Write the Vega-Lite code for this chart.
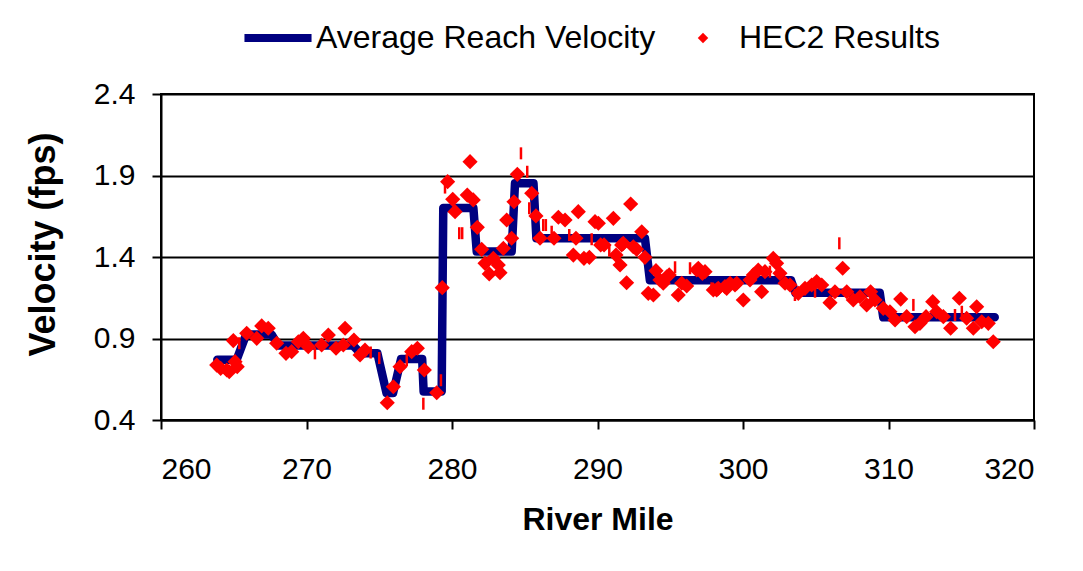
{
  "$schema": "https://vega.github.io/schema/vega-lite/v6.json",
  "width": 873,
  "height": 326,
  "autosize": {"type": "none"},
  "padding": {"left": 161, "top": 94, "right": 49, "bottom": 151},
  "background": "white",
  "config": {
    "view": {"stroke": "black", "strokeWidth": 2},
    "font": "Liberation Sans",
    "axis": {
      "domainColor": "black", "domainWidth": 2,
      "tickColor": "black", "tickWidth": 2, "tickSize": 9,
      "gridColor": "black", "gridWidth": 2,
      "labelFont": "Liberation Sans", "labelFontSize": 30, "labelColor": "black",
      "titleFont": "Liberation Sans", "titleFontSize": 32, "titleFontWeight": "bold", "titleColor": "black"
    }
  },
  "datasets": {
    "line": [
      {"mile": 263.87, "v": 0.77, "series": "Average Reach Velocity"},
      {"mile": 265.2, "v": 0.77, "series": "Average Reach Velocity"},
      {"mile": 265.85, "v": 0.925, "series": "Average Reach Velocity"},
      {"mile": 267.6, "v": 0.925, "series": "Average Reach Velocity"},
      {"mile": 268.06, "v": 0.857, "series": "Average Reach Velocity"},
      {"mile": 273.2, "v": 0.857, "series": "Average Reach Velocity"},
      {"mile": 273.7, "v": 0.81, "series": "Average Reach Velocity"},
      {"mile": 274.87, "v": 0.81, "series": "Average Reach Velocity"},
      {"mile": 275.5, "v": 0.565, "series": "Average Reach Velocity"},
      {"mile": 275.95, "v": 0.565, "series": "Average Reach Velocity"},
      {"mile": 276.5, "v": 0.775, "series": "Average Reach Velocity"},
      {"mile": 277.95, "v": 0.775, "series": "Average Reach Velocity"},
      {"mile": 278.05, "v": 0.575, "series": "Average Reach Velocity"},
      {"mile": 279.29, "v": 0.575, "series": "Average Reach Velocity"},
      {"mile": 279.4, "v": 1.70, "series": "Average Reach Velocity"},
      {"mile": 281.47, "v": 1.70, "series": "Average Reach Velocity"},
      {"mile": 281.7, "v": 1.433, "series": "Average Reach Velocity"},
      {"mile": 284.1, "v": 1.433, "series": "Average Reach Velocity"},
      {"mile": 284.33, "v": 1.852, "series": "Average Reach Velocity"},
      {"mile": 285.6, "v": 1.852, "series": "Average Reach Velocity"},
      {"mile": 285.8, "v": 1.515, "series": "Average Reach Velocity"},
      {"mile": 293.26, "v": 1.515, "series": "Average Reach Velocity"},
      {"mile": 293.6, "v": 1.257, "series": "Average Reach Velocity"},
      {"mile": 303.3, "v": 1.257, "series": "Average Reach Velocity"},
      {"mile": 303.6, "v": 1.18, "series": "Average Reach Velocity"},
      {"mile": 309.4, "v": 1.18, "series": "Average Reach Velocity"},
      {"mile": 309.64, "v": 1.03, "series": "Average Reach Velocity"},
      {"mile": 317.3, "v": 1.03, "series": "Average Reach Velocity"}
    ],
    "pts": [
      {"mile": 263.83, "v": 0.737, "series": "HEC2 Results"},
      {"mile": 264.10, "v": 0.717, "series": "HEC2 Results"},
      {"mile": 264.52, "v": 0.707, "series": "HEC2 Results"},
      {"mile": 264.69, "v": 0.696, "series": "HEC2 Results"},
      {"mile": 265.09, "v": 0.758, "series": "HEC2 Results"},
      {"mile": 265.24, "v": 0.727, "series": "HEC2 Results"},
      {"mile": 264.97, "v": 0.887, "series": "HEC2 Results"},
      {"mile": 265.89, "v": 0.932, "series": "HEC2 Results"},
      {"mile": 266.58, "v": 0.901, "series": "HEC2 Results"},
      {"mile": 266.92, "v": 0.977, "series": "HEC2 Results"},
      {"mile": 267.37, "v": 0.963, "series": "HEC2 Results"},
      {"mile": 267.95, "v": 0.871, "series": "HEC2 Results"},
      {"mile": 268.59, "v": 0.809, "series": "HEC2 Results"},
      {"mile": 268.98, "v": 0.819, "series": "HEC2 Results"},
      {"mile": 269.44, "v": 0.880, "series": "HEC2 Results"},
      {"mile": 269.78, "v": 0.901, "series": "HEC2 Results"},
      {"mile": 270.12, "v": 0.850, "series": "HEC2 Results"},
      {"mile": 271.04, "v": 0.860, "series": "HEC2 Results"},
      {"mile": 271.50, "v": 0.921, "series": "HEC2 Results"},
      {"mile": 272.03, "v": 0.840, "series": "HEC2 Results"},
      {"mile": 272.65, "v": 0.963, "series": "HEC2 Results"},
      {"mile": 272.53, "v": 0.860, "series": "HEC2 Results"},
      {"mile": 273.26, "v": 0.891, "series": "HEC2 Results"},
      {"mile": 273.68, "v": 0.799, "series": "HEC2 Results"},
      {"mile": 274.02, "v": 0.829, "series": "HEC2 Results"},
      {"mile": 275.55, "v": 0.506, "series": "HEC2 Results"},
      {"mile": 275.97, "v": 0.604, "series": "HEC2 Results"},
      {"mile": 276.43, "v": 0.727, "series": "HEC2 Results"},
      {"mile": 277.23, "v": 0.819, "series": "HEC2 Results"},
      {"mile": 277.62, "v": 0.840, "series": "HEC2 Results"},
      {"mile": 278.10, "v": 0.707, "series": "HEC2 Results"},
      {"mile": 278.95, "v": 0.567, "series": "HEC2 Results"},
      {"mile": 279.33, "v": 1.212, "series": "HEC2 Results"},
      {"mile": 279.70, "v": 1.862, "series": "HEC2 Results"},
      {"mile": 280.05, "v": 1.754, "series": "HEC2 Results"},
      {"mile": 280.21, "v": 1.678, "series": "HEC2 Results"},
      {"mile": 281.24, "v": 1.985, "series": "HEC2 Results"},
      {"mile": 281.05, "v": 1.780, "series": "HEC2 Results"},
      {"mile": 281.46, "v": 1.750, "series": "HEC2 Results"},
      {"mile": 281.74, "v": 1.582, "series": "HEC2 Results"},
      {"mile": 282.04, "v": 1.447, "series": "HEC2 Results"},
      {"mile": 282.27, "v": 1.361, "series": "HEC2 Results"},
      {"mile": 282.56, "v": 1.296, "series": "HEC2 Results"},
      {"mile": 282.84, "v": 1.392, "series": "HEC2 Results"},
      {"mile": 283.18, "v": 1.351, "series": "HEC2 Results"},
      {"mile": 283.30, "v": 1.304, "series": "HEC2 Results"},
      {"mile": 283.53, "v": 1.453, "series": "HEC2 Results"},
      {"mile": 283.76, "v": 1.627, "series": "HEC2 Results"},
      {"mile": 284.10, "v": 1.515, "series": "HEC2 Results"},
      {"mile": 284.26, "v": 1.739, "series": "HEC2 Results"},
      {"mile": 284.49, "v": 1.907, "series": "HEC2 Results"},
      {"mile": 285.48, "v": 1.791, "series": "HEC2 Results"},
      {"mile": 285.77, "v": 1.652, "series": "HEC2 Results"},
      {"mile": 286.05, "v": 1.515, "series": "HEC2 Results"},
      {"mile": 287.01, "v": 1.515, "series": "HEC2 Results"},
      {"mile": 287.31, "v": 1.644, "series": "HEC2 Results"},
      {"mile": 287.77, "v": 1.627, "series": "HEC2 Results"},
      {"mile": 288.52, "v": 1.515, "series": "HEC2 Results"},
      {"mile": 288.34, "v": 1.412, "series": "HEC2 Results"},
      {"mile": 288.68, "v": 1.678, "series": "HEC2 Results"},
      {"mile": 289.83, "v": 1.617, "series": "HEC2 Results"},
      {"mile": 290.06, "v": 1.607, "series": "HEC2 Results"},
      {"mile": 291.09, "v": 1.637, "series": "HEC2 Results"},
      {"mile": 292.28, "v": 1.725, "series": "HEC2 Results"},
      {"mile": 289.07, "v": 1.392, "series": "HEC2 Results"},
      {"mile": 289.44, "v": 1.398, "series": "HEC2 Results"},
      {"mile": 290.22, "v": 1.474, "series": "HEC2 Results"},
      {"mile": 290.45, "v": 1.474, "series": "HEC2 Results"},
      {"mile": 291.27, "v": 1.412, "series": "HEC2 Results"},
      {"mile": 291.55, "v": 1.351, "series": "HEC2 Results"},
      {"mile": 291.66, "v": 1.474, "series": "HEC2 Results"},
      {"mile": 291.77, "v": 1.484, "series": "HEC2 Results"},
      {"mile": 292.46, "v": 1.463, "series": "HEC2 Results"},
      {"mile": 292.69, "v": 1.447, "series": "HEC2 Results"},
      {"mile": 293.04, "v": 1.555, "series": "HEC2 Results"},
      {"mile": 293.26, "v": 1.398, "series": "HEC2 Results"},
      {"mile": 292.00, "v": 1.242, "series": "HEC2 Results"},
      {"mile": 294.02, "v": 1.316, "series": "HEC2 Results"},
      {"mile": 294.29, "v": 1.259, "series": "HEC2 Results"},
      {"mile": 294.52, "v": 1.239, "series": "HEC2 Results"},
      {"mile": 294.76, "v": 1.279, "series": "HEC2 Results"},
      {"mile": 294.93, "v": 1.290, "series": "HEC2 Results"},
      {"mile": 293.49, "v": 1.177, "series": "HEC2 Results"},
      {"mile": 293.84, "v": 1.167, "series": "HEC2 Results"},
      {"mile": 295.55, "v": 1.167, "series": "HEC2 Results"},
      {"mile": 295.79, "v": 1.239, "series": "HEC2 Results"},
      {"mile": 296.13, "v": 1.222, "series": "HEC2 Results"},
      {"mile": 296.82, "v": 1.320, "series": "HEC2 Results"},
      {"mile": 296.93, "v": 1.331, "series": "HEC2 Results"},
      {"mile": 297.21, "v": 1.300, "series": "HEC2 Results"},
      {"mile": 297.39, "v": 1.310, "series": "HEC2 Results"},
      {"mile": 297.96, "v": 1.198, "series": "HEC2 Results"},
      {"mile": 298.19, "v": 1.198, "series": "HEC2 Results"},
      {"mile": 298.30, "v": 1.208, "series": "HEC2 Results"},
      {"mile": 298.76, "v": 1.218, "series": "HEC2 Results"},
      {"mile": 298.88, "v": 1.208, "series": "HEC2 Results"},
      {"mile": 299.11, "v": 1.239, "series": "HEC2 Results"},
      {"mile": 299.45, "v": 1.228, "series": "HEC2 Results"},
      {"mile": 299.57, "v": 1.239, "series": "HEC2 Results"},
      {"mile": 300.02, "v": 1.136, "series": "HEC2 Results"},
      {"mile": 300.48, "v": 1.259, "series": "HEC2 Results"},
      {"mile": 300.71, "v": 1.290, "series": "HEC2 Results"},
      {"mile": 301.05, "v": 1.320, "series": "HEC2 Results"},
      {"mile": 301.28, "v": 1.187, "series": "HEC2 Results"},
      {"mile": 301.51, "v": 1.310, "series": "HEC2 Results"},
      {"mile": 302.08, "v": 1.392, "series": "HEC2 Results"},
      {"mile": 302.31, "v": 1.361, "series": "HEC2 Results"},
      {"mile": 302.54, "v": 1.300, "series": "HEC2 Results"},
      {"mile": 302.89, "v": 1.239, "series": "HEC2 Results"},
      {"mile": 303.23, "v": 1.228, "series": "HEC2 Results"},
      {"mile": 303.80, "v": 1.177, "series": "HEC2 Results"},
      {"mile": 304.26, "v": 1.208, "series": "HEC2 Results"},
      {"mile": 304.72, "v": 1.228, "series": "HEC2 Results"},
      {"mile": 305.06, "v": 1.249, "series": "HEC2 Results"},
      {"mile": 305.41, "v": 1.228, "series": "HEC2 Results"},
      {"mile": 305.98, "v": 1.120, "series": "HEC2 Results"},
      {"mile": 306.32, "v": 1.187, "series": "HEC2 Results"},
      {"mile": 306.85, "v": 1.331, "series": "HEC2 Results"},
      {"mile": 307.13, "v": 1.187, "series": "HEC2 Results"},
      {"mile": 307.58, "v": 1.136, "series": "HEC2 Results"},
      {"mile": 308.04, "v": 1.156, "series": "HEC2 Results"},
      {"mile": 308.50, "v": 1.106, "series": "HEC2 Results"},
      {"mile": 308.77, "v": 1.187, "series": "HEC2 Results"},
      {"mile": 309.07, "v": 1.136, "series": "HEC2 Results"},
      {"mile": 309.64, "v": 1.085, "series": "HEC2 Results"},
      {"mile": 310.10, "v": 1.064, "series": "HEC2 Results"},
      {"mile": 310.45, "v": 1.014, "series": "HEC2 Results"},
      {"mile": 310.84, "v": 1.142, "series": "HEC2 Results"},
      {"mile": 311.25, "v": 1.034, "series": "HEC2 Results"},
      {"mile": 311.82, "v": 0.972, "series": "HEC2 Results"},
      {"mile": 312.16, "v": 0.993, "series": "HEC2 Results"},
      {"mile": 312.58, "v": 1.034, "series": "HEC2 Results"},
      {"mile": 313.04, "v": 1.126, "series": "HEC2 Results"},
      {"mile": 313.31, "v": 1.064, "series": "HEC2 Results"},
      {"mile": 313.77, "v": 1.034, "series": "HEC2 Results"},
      {"mile": 314.27, "v": 0.963, "series": "HEC2 Results"},
      {"mile": 314.87, "v": 1.147, "series": "HEC2 Results"},
      {"mile": 315.37, "v": 1.024, "series": "HEC2 Results"},
      {"mile": 315.83, "v": 0.963, "series": "HEC2 Results"},
      {"mile": 316.06, "v": 1.095, "series": "HEC2 Results"},
      {"mile": 316.41, "v": 1.003, "series": "HEC2 Results"},
      {"mile": 316.86, "v": 0.993, "series": "HEC2 Results"},
      {"mile": 317.20, "v": 0.880, "series": "HEC2 Results"}
    ],
    "ticks": [
      {"mile": 265.38, "v": 0.871},
      {"mile": 270.58, "v": 0.809},
      {"mile": 274.41, "v": 0.814},
      {"mile": 275.00, "v": 0.780},
      {"mile": 276.89, "v": 0.767},
      {"mile": 278.03, "v": 0.500},
      {"mile": 279.24, "v": 0.644},
      {"mile": 279.52, "v": 1.826},
      {"mile": 280.50, "v": 1.546},
      {"mile": 280.70, "v": 1.546},
      {"mile": 284.74, "v": 2.036},
      {"mile": 285.17, "v": 1.923},
      {"mile": 285.31, "v": 1.699},
      {"mile": 286.27, "v": 1.596},
      {"mile": 286.45, "v": 1.596},
      {"mile": 286.85, "v": 1.555},
      {"mile": 288.06, "v": 1.535},
      {"mile": 289.60, "v": 1.509},
      {"mile": 290.81, "v": 1.439},
      {"mile": 295.33, "v": 1.337},
      {"mile": 296.36, "v": 1.331},
      {"mile": 297.84, "v": 1.208},
      {"mile": 301.85, "v": 1.310},
      {"mile": 303.57, "v": 1.167},
      {"mile": 304.95, "v": 1.187},
      {"mile": 306.62, "v": 1.484},
      {"mile": 311.71, "v": 1.106},
      {"mile": 314.57, "v": 1.044},
      {"mile": 315.04, "v": 1.064}
    ]
  },
  "encoding": {
    "x": {
      "field": "mile", "type": "quantitative",
      "scale": {"domain": [260, 320], "nice": false, "zero": false},
      "axis": {"values": [260, 270, 280, 290, 300, 310, 320], "grid": false, "title": "River Mile", "labelPadding": 25, "titlePadding": 20, "format": "d"}
    },
    "y": {
      "field": "v", "type": "quantitative",
      "scale": {"domain": [0.4, 2.4], "nice": false, "zero": false},
      "axis": {"values": [0.4, 0.9, 1.4, 1.9, 2.4], "grid": true, "title": "Velocity (fps)", "titleFontSize": 36, "titleY": 150, "format": ".1f", "labelPadding": 17, "titlePadding": 31}
    }
  },
  "layer": [
    {
      "data": {"name": "line"},
      "mark": {"type": "line", "strokeWidth": 8.5, "strokeCap": "round", "strokeJoin": "round"},
      "encoding": {
        "color": {
          "field": "series", "type": "nominal",
          "scale": {"domain": ["Average Reach Velocity"], "range": ["#000080"]},
          "legend": {"orient": "none", "legendX": 79, "legendY": -94, "title": null, "padding": 0,
            "symbolType": "stroke", "symbolSize": 4500, "symbolStrokeWidth": 8,
            "labelFontSize": 32, "labelFont": "Liberation Sans", "labelColor": "black", "labelOffset": 0, "labelLimit": 600}
        }
      }
    },
    {
      "data": {"name": "pts"},
      "mark": {"type": "point", "shape": "diamond", "filled": true, "size": 230, "opacity": 1, "strokeWidth": 0},
      "encoding": {
        "fill": {
          "field": "series", "type": "nominal",
          "scale": {"domain": ["HEC2 Results"], "range": ["#ff0000"]},
          "legend": {"orient": "none", "legendX": 526, "legendY": -72, "title": null, "padding": 0,
            "symbolType": "diamond", "symbolSize": 110, "symbolStrokeWidth": 0, "symbolOpacity": 1,
            "labelFontSize": 32, "labelFont": "Liberation Sans", "labelColor": "black", "labelOffset": 20, "labelLimit": 600}
        }
      }
    },
    {
      "data": {"name": "ticks"},
      "mark": {"type": "tick", "orient": "vertical", "color": "#ff0000", "size": 12, "thickness": 2.5, "opacity": 1},
      "encoding": {}
    }
  ]
}
